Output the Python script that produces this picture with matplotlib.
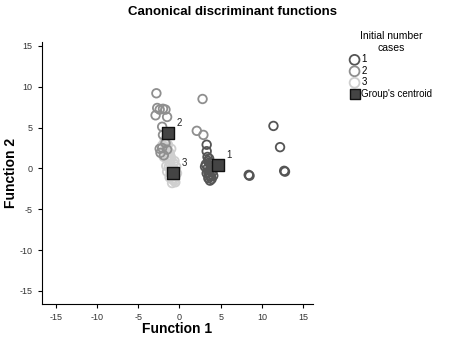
import numpy as np
import matplotlib
matplotlib.use("Agg")
import matplotlib.pyplot as plt

plt.rcParams['font.family'] = ['Liberation Sans', 'DejaVu Sans']
plt.rcParams['axes.unicode_minus'] = False

# group 1 cases
x1 = [3.3, 3.3, 3.4, 3.5, 3.2, 3.6, 3.8, 3.4, 3.7, 3.9, 3.5, 3.6, 4.0, 3.8,
      3.5, 3.7, 3.9, 4.1, 3.6, 3.8, 3.1, 3.3, 8.4, 8.5, 11.4, 12.2, 12.7, 12.8]
y1 = [2.9, 2.1, 1.4, 0.9, 0.5, 0.7, 0.3, 0.0, -0.2, 0.1, -0.5, -0.8, -0.4, -1.0,
      -1.2, -1.5, -1.3, -0.9, 1.2, 0.6, 0.2, -0.6, -0.8, -0.9, 5.2, 2.6, -0.3, -0.4]

# group 2 cases
x2 = [-2.8, -2.7, -2.4, -2.0, -1.7, -2.9, -1.5, -2.1, 2.8, 2.1, 2.9, -2.0,
      -1.7, -2.1, -2.3, -1.5, -2.4, -1.9]
y2 = [9.2, 7.4, 7.2, 7.3, 7.2, 6.5, 6.3, 5.1, 8.5, 4.6, 4.1, 4.1,
      3.1, 2.5, 1.9, 2.3, 2.4, 1.6]

# group 3 cases
x3 = [-1.8, -1.6, -1.7, -1.4, -1.5, -1.3, -1.4, -1.2, -1.1, -1.3, -1.0, -0.9,
      -1.1, -0.8, -0.9, -0.7, -0.8, -0.6, -0.7, -0.6, -1.9, -2.1, -1.2, -1.0, -0.5,
      -1.9, -1.0, -1.6, -0.6, -1.5, -0.4, -1.2, -0.9, -0.5, -1.4, -0.3, -1.1]
y3 = [3.4, 3.0, 2.6, 2.2, 1.8, 1.5, 1.1, 0.8, 0.5, 0.2, 0.0, -0.3,
      -0.5, -0.7, -1.0, -1.2, -1.4, -1.5, 0.6, -0.2, 1.4, 2.8, 1.9, 1.2, -0.9,
      2.0, 2.4, 0.3, 0.9, -0.4, 0.2, -1.1, -1.8, -1.7, 2.9, -0.6, 1.5]

# group centroids
cx = [4.7, -1.4, -0.8]
cy = [0.4, 4.3, -0.6]
clabels = ['1', '2', '3']

fig = plt.figure(figsize=(4.75, 3.43), dpi=100)
ax = fig.add_axes([0.088, 0.114, 0.571, 0.764])

ax.scatter(x3, y3, s=38, facecolors='none', edgecolors='#cfcfcf', linewidths=1.3, zorder=2, label='3')
ax.scatter(x2, y2, s=38, facecolors='none', edgecolors='#8f8f8f', linewidths=1.3, zorder=3, label='2')
ax.scatter(x1, y1, s=38, facecolors='none', edgecolors='#555555', linewidths=1.3, zorder=4, label='1')
ax.scatter(cx, cy, s=80, marker='s', facecolors='#444444', edgecolors='#111111', linewidths=1,
           zorder=5, label="Group's centroid")
for x, y, t in zip(cx, cy, clabels):
    ax.annotate(t, (x, y), xytext=(6, 5), textcoords='offset points', fontsize=7, color='#222222')

ax.set_xlim(-16.7, 16.2)
ax.set_ylim(-16.6, 15.5)
ticks = [-15, -10, -5, 0, 5, 10, 15]
ax.set_xticks(ticks)
ax.set_yticks(ticks)
ax.tick_params(labelsize=6.5, labelcolor='#333333', length=3, width=0.8)
for s in ['top', 'right']:
    ax.spines[s].set_visible(False)
ax.set_xlabel('Function 1', fontsize=10, fontweight='bold', labelpad=0)
ax.set_ylabel('Function 2', fontsize=10, fontweight='bold')
ax.yaxis.set_label_coords(-0.089, 0.5)

fig.text(0.49, 0.965, 'Canonical discriminant functions', ha='center', va='center',
         fontsize=9.5, fontweight='bold')

handles, labels = ax.get_legend_handles_labels()
order = [2, 1, 0, 3]
leg = fig.legend([handles[i] for i in order], [labels[i] for i in order],
                 loc='upper left', bbox_to_anchor=(0.728, 0.92), frameon=False,
                 title='Initial number\ncases', fontsize=7, title_fontsize=7.5,
                 handletextpad=0.2, labelspacing=0.15, borderaxespad=0, handlelength=1,
                 markerscale=1.15)
leg.get_title().set_multialignment('center')
leg.legend_handles[3].set_sizes([60])

fig.savefig('out.png', dpi=100)
